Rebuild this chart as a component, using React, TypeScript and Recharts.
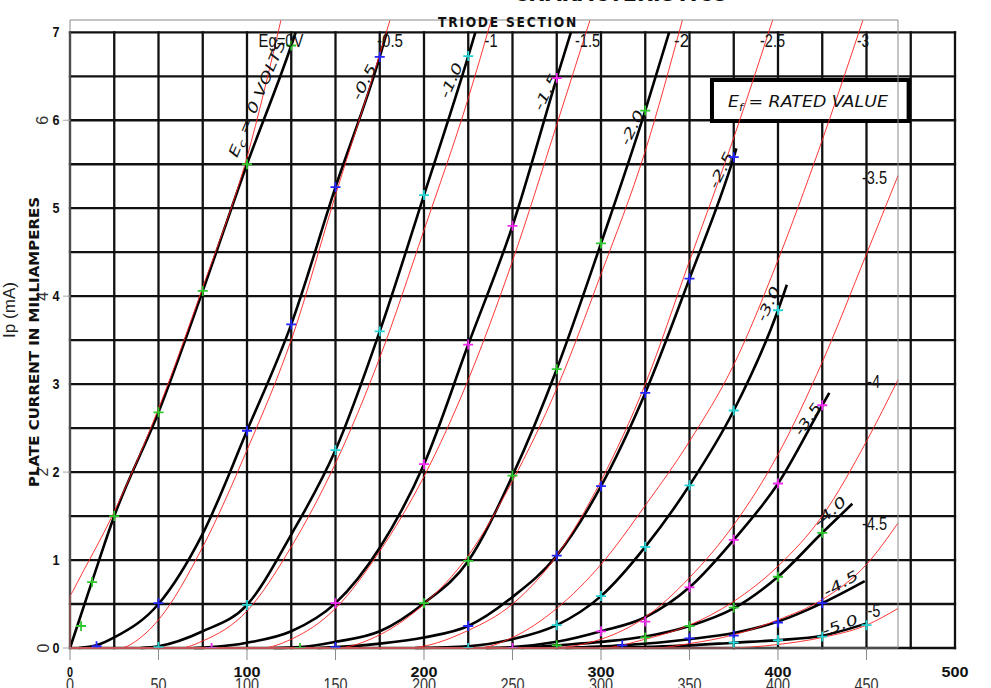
import React from 'react';
import {
  ComposedChart,
  Line,
  Scatter,
  XAxis,
  YAxis,
  ReferenceLine,
  ReferenceArea,
  ReferenceDot,
} from 'recharts';

// plate volts / plate mA (black)
const scanEc0 = [[0, 0], [12.5, 0.76], [25, 1.5], [50, 2.68], [75, 4.06], [100, 5.5], [125, 6.85], [127.5, 7.0]];
const scanEc05 = [[5, 0], [15, 0.03], [25, 0.12], [50, 0.5], [75, 1.3], [100, 2.47], [125, 3.68], [150, 5.24], [175, 6.72], [179, 7.0]];
const scanEc10 = [[40, 0], [50, 0.02], [75, 0.19], [100, 0.49], [125, 1.29], [150, 2.25], [175, 3.6], [200, 5.15], [225, 6.73], [229, 7.0]];
const scanEc15 = [[70, 0], [80, 0.01], [100, 0.06], [125, 0.19], [150, 0.51], [175, 1.14], [200, 2.09], [225, 3.45], [250, 4.8], [275, 6.48], [283, 7.0]];
const scanEc20 = [[115, 0], [130, 0.01], [150, 0.07], [175, 0.19], [200, 0.51], [225, 0.99], [250, 1.96], [275, 3.17], [300, 4.6], [325, 6.11], [338.5, 7.0]];
const scanEc25 = [[140, 0], [150, 0.01], [175, 0.05], [200, 0.12], [225, 0.25], [250, 0.58], [275, 1.05], [300, 1.84], [325, 2.9], [350, 4.2], [375, 5.58], [376.5, 5.68]];
const scanEc30 = [[195, 0], [225, 0.02], [250, 0.1], [275, 0.26], [300, 0.59], [325, 1.15], [350, 1.85], [375, 2.7], [400, 3.84], [405, 4.13]];
const scanEc35 = [[235, 0], [250, 0.01], [275, 0.07], [300, 0.19], [325, 0.35], [350, 0.69], [375, 1.23], [400, 1.87], [425, 2.76], [429, 2.9]];
const scanEc40 = [[255, 0], [275, 0.03], [300, 0.07], [325, 0.13], [350, 0.25], [375, 0.45], [400, 0.81], [425, 1.31], [442, 1.64]];
const scanEc45 = [[280, 0], [312, 0.03], [350, 0.1], [375, 0.17], [400, 0.3], [425, 0.51], [449, 0.76]];
const scanEc50 = [[300, 0], [350, 0.03], [375, 0.06], [400, 0.09], [425, 0.14], [450, 0.28]];

const ptsEc0 = [[6.25, 0.25], [12.5, 0.75], [25, 1.5], [50, 2.68], [75, 4.06], [100, 5.5], [125, 6.85]];
const ptsEc05 = [[15, 0.02], [50, 0.51], [100, 2.47], [125, 3.68], [150, 5.24], [175, 6.72]];
const ptsEc10 = [[50, 0.01], [100, 0.49], [150, 2.25], [175, 3.6], [200, 5.15], [225, 6.73]];
const ptsEc15 = [[80, 0.0], [150, 0.51], [200, 2.09], [225, 3.45], [250, 4.8], [275, 6.48]];
const ptsEc20 = [[130, 0.0], [200, 0.51], [225, 0.99], [250, 1.96], [275, 3.17], [300, 4.6], [325, 6.11]];
const ptsEc25 = [[150, 0.01], [225, 0.25], [275, 1.05], [300, 1.84], [325, 2.9], [350, 4.2], [375, 5.58]];
const ptsEc30 = [[225, 0.0], [275, 0.26], [300, 0.59], [325, 1.15], [350, 1.85], [375, 2.7], [400, 3.84]];
const ptsEc35 = [[250, 0.0], [300, 0.19], [325, 0.3], [350, 0.69], [375, 1.23], [400, 1.87], [425, 2.76]];
const ptsEc40 = [[275, 0.03], [325, 0.12], [350, 0.25], [375, 0.46], [400, 0.81], [425, 1.31]];
const ptsEc45 = [[312, 0.03], [350, 0.11], [375, 0.14], [400, 0.29], [425, 0.51]];
const ptsEc50 = [[375, 0.06], [400, 0.09], [425, 0.13], [450, 0.26]];

// model curves (red), Eg = 0 ... -5 V
const modelEg0 = [[0, 0], [0.01, 0.58], [1.5, 0.64], [25, 1.55], [50, 2.72], [75, 4.1], [100, 5.58], [119.2, 7.14]];
const modelEg05 = [[0, 0], [28, 0], [40, 0.12], [50, 0.32], [75, 1.15], [100, 2.25], [126, 3.56], [150, 5.15], [175, 6.75], [180.8, 7.14]];
const modelEg10 = [[0, 0], [62, 0], [75, 0.08], [100, 0.42], [125, 1.15], [150, 2.1], [175, 3.3], [200, 4.75], [225, 6.25], [238, 7.14]];
const modelEg15 = [[0, 0], [108, 0], [125, 0.1], [150, 0.45], [175, 1.1], [200, 1.95], [225, 3.05], [250, 4.4], [275, 5.95], [293.8, 7.14]];
const modelEg20 = [[0, 0], [150, 0], [175, 0.15], [200, 0.5], [225, 1.05], [250, 1.9], [275, 2.95], [300, 4.25], [325, 5.65], [346, 7.14]];
const modelEg25 = [[0, 0], [190, 0], [225, 0.2], [250, 0.5], [275, 1.05], [300, 1.9], [325, 3.0], [350, 4.4], [375, 5.8], [397, 7.14]];
const modelEg30 = [[0, 0], [230, 0], [250, 0.12], [275, 0.45], [300, 0.95], [325, 1.62], [350, 2.35], [375, 3.22], [400, 4.41], [423, 5.66], [448, 7.14]];
const modelEg35 = [[0, 0], [270, 0], [300, 0.1], [325, 0.35], [350, 0.8], [375, 1.4], [400, 2.2], [425, 3.25], [450, 4.48], [467.8, 5.37]];
const modelEg40 = [[0, 0], [300, 0], [325, 0.1], [350, 0.26], [375, 0.53], [400, 0.93], [425, 1.5], [450, 2.35], [467.8, 3.05]];
const modelEg45 = [[0, 0], [330, 0], [350, 0.05], [375, 0.15], [400, 0.32], [425, 0.55], [450, 0.95], [467.8, 1.42]];
const modelEg50 = [[0, 0], [370, 0], [400, 0.04], [425, 0.12], [450, 0.26], [467.8, 0.45]];

const overlayXTicks = [0, 50, 100, 150, 200, 250, 300, 350, 400, 450];
const overlayYTicks = [0, 2, 4, 6];
const scanXTicks = [0, 100, 200, 300, 400, 500];
const scanXTickLabels = ['0', '100', '200', '300', '400', '500'];
const scanYTicks = [0, 1, 2, 3, 4, 5, 6, 7];
const gridVolts = [0, 25, 50, 75, 100, 125, 150, 175, 200, 225, 250, 275, 300, 325, 350, 375, 400, 425, 450, 475, 500];
const gridMa = [0, 0.5, 1, 1.5, 2, 2.5, 3, 3.5, 4, 4.5, 5, 5.5, 6, 6.5, 7];

const GREEN = '#2fc82f';
const BLUE = '#2424ff';
const CYAN = '#25d5d5';
const MAGENTA = '#f22af2';

const scanCurves = [scanEc0, scanEc05, scanEc10, scanEc15, scanEc20, scanEc25, scanEc30, scanEc35, scanEc40, scanEc45, scanEc50];
const modelCurves = [modelEg0, modelEg05, modelEg10, modelEg15, modelEg20, modelEg25, modelEg30, modelEg35, modelEg40, modelEg45, modelEg50];
const markerSets = [
  { pts: ptsEc0, color: GREEN },
  { pts: ptsEc05, color: BLUE },
  { pts: ptsEc10, color: CYAN },
  { pts: ptsEc15, color: MAGENTA },
  { pts: ptsEc20, color: GREEN },
  { pts: ptsEc25, color: BLUE },
  { pts: ptsEc30, color: CYAN },
  { pts: ptsEc35, color: MAGENTA },
  { pts: ptsEc40, color: GREEN },
  { pts: ptsEc45, color: BLUE },
  { pts: ptsEc50, color: CYAN },
];

type Note = { text: string; v: number; i: number; w: number; rot?: number; sub?: string; rest?: string };

// labels of the model curves
const modelNotes: Note[] = [
  { text: 'Eg=0V', v: 119.2, i: 6.833, w: 45 },
  { text: '-0.5', v: 180.8, i: 6.833, w: 26 },
  { text: '-1', v: 237.9, i: 6.833, w: 13 },
  { text: '-1.5', v: 292.4, i: 6.833, w: 25 },
  { text: '-2', v: 345.5, i: 6.833, w: 15 },
  { text: '-2.5', v: 396.9, i: 6.833, w: 25 },
  { text: '-3', v: 448.0, i: 6.833, w: 12 },
  { text: '-3.5', v: 454.5, i: 5.275, w: 25 },
  { text: '-4', v: 454.0, i: 2.956, w: 13 },
  { text: '-4.5', v: 454.5, i: 1.342, w: 25 },
  { text: '-5', v: 454.2, i: 0.352, w: 13 },
];

// lettering of the scanned sheet, along the curves
const scanNotes: Note[] = [
  { text: 'E', sub: 'c', rest: ' = 0 VOLTS', v: 105.6, i: 6.249, w: 126, rot: -67 },
  { text: '-0.5', v: 166.1, i: 6.435, w: 38, rot: -63 },
  { text: '-1.0', v: 215.3, i: 6.454, w: 37, rot: -66 },
  { text: '-1.5', v: 268.9, i: 6.321, w: 39, rot: -63.5 },
  { text: '-2.0', v: 317.5, i: 5.917, w: 37, rot: -64.5 },
  { text: '-2.5', v: 367.8, i: 5.434, w: 39, rot: -63.5 },
  { text: '-3.0', v: 394.5, i: 3.911, w: 37, rot: -64.5 },
  { text: '-3.5', v: 416.7, i: 2.603, w: 36, rot: -55 },
  { text: '-4.0', v: 429.4, i: 1.55, w: 38, rot: -41.5 },
  { text: '-4.5', v: 435.5, i: 0.735, w: 38, rot: -30 },
  { text: '-5.0', v: 435.0, i: 0.261, w: 37, rot: -20 },
];

const rows = (pts: number[][]) => pts.map(([v, i]) => ({ v, i }));

const cross = (color: string) => (p: any) => {
  const { cx, cy } = p;
  if (cx == null || cy == null) return <g />;
  return (
    <path
      d={`M${cx - 5},${cy}H${cx + 5}M${cx},${cy - 5}V${cy + 5}`}
      stroke={color}
      strokeWidth={1.8}
      fill="none"
    />
  );
};

const noteShape = (n: Note, style: any) => (p: any) => {
  const { cx, cy } = p;
  return (
    <text
      x={cx}
      y={cy}
      transform={n.rot ? `rotate(${n.rot} ${cx} ${cy})` : undefined}
      textAnchor="middle"
      textLength={n.w}
      lengthAdjust="spacingAndGlyphs"
      {...style}
    >
      {n.sub ? (
        <>
          <tspan>{n.text}</tspan>
          <tspan dy={4} fontSize={10}>{n.sub}</tspan>
          <tspan dy={-4}>{n.rest}</tspan>
        </>
      ) : (
        n.text
      )}
    </text>
  );
};

const overlayFont = "'Liberation Sans', Arial, sans-serif";
const scanFont = "'DejaVu Sans', sans-serif";

const OverlayXTick = (p: any) => {
  const label = String(p.payload.value);
  return (
    <text
      x={p.x}
      y={p.y + 29}
      textAnchor="middle"
      fontFamily={overlayFont}
      fontSize={19}
      fill="#333"
      textLength={label.length * 8}
      lengthAdjust="spacingAndGlyphs"
    >
      {label}
    </text>
  );
};

const OverlayYTick = (p: any) => {
  const x = p.x - 18;
  return (
    <text
      x={x}
      y={p.y}
      transform={`rotate(-90 ${x} ${p.y})`}
      textAnchor="middle"
      dominantBaseline="central"
      fontFamily={overlayFont}
      fontSize={16}
      fill="#333"
    >
      {p.payload.value}
    </text>
  );
};

export default function App() {
  return (
    <div style={{ position: 'absolute', left: 0, top: 0, width: 991, height: 688, background: '#fff' }}>
      <ComposedChart width={991} height={688} margin={{ top: 20, right: 93, bottom: 0, left: 0 }}>
        <XAxis
          type="number"
          dataKey="v"
          domain={[0, 467.8]}
          ticks={overlayXTicks}
          interval={0}
          height={40}
          tickSize={12}
          axisLine={false}
          tickLine={{ stroke: '#8a8a8a' }}
          tick={(p: any) => <OverlayXTick {...p} />}
        />
        <YAxis
          type="number"
          domain={[0, 7.14]}
          ticks={overlayYTicks}
          interval={0}
          width={70}
          tickSize={7}
          axisLine={false}
          tickLine={{ stroke: '#aaa' }}
          tick={(p: any) => <OverlayYTick {...p} />}
        />
        <YAxis yAxisId="clip" type="number" domain={[0, 7.14]} allowDataOverflow hide />

        {gridVolts.map((v) => (
          <ReferenceLine
            key={`gv${v}`}
            segment={[{ x: v, y: 0 }, { x: v, y: 7 }]}
            stroke="#111"
            strokeWidth={2.3}
            strokeLinecap="square"
            ifOverflow="visible"
            zIndex={-20}
          />
        ))}
        {gridMa.map((i) => (
          <ReferenceLine
            key={`gh${i}`}
            segment={[{ x: 0, y: i }, { x: 500, y: i }]}
            stroke="#111"
            strokeWidth={2.3}
            strokeLinecap="square"
            ifOverflow="visible"
            zIndex={-20}
          />
        ))}

        <ReferenceArea
          x1={362.7}
          x2={473.8}
          y1={5.991}
          y2={6.458}
          fill="#fff"
          fillOpacity={1}
          stroke="#000"
          strokeWidth={4}
          ifOverflow="visible"
          zIndex={-10}
        />

        {scanCurves.map((c, k) => (
          <Line
            key={`scan${k}`}
            name={`scan${k}`}
            data={rows(c)}
            dataKey="i"
            type="monotone"
            stroke="#000"
            strokeWidth={2.6}
            dot={false}
            activeDot={false}
            isAnimationActive={false}
          />
        ))}

        {scanNotes.map((n, k) => (
          <ReferenceDot
            key={`sn${k}`}
            x={n.v}
            y={n.i}
            r={1}
            ifOverflow="visible"
            zIndex={450}
            shape={noteShape(n, {
              fontFamily: scanFont,
              fontStyle: 'italic',
              fontSize: 14,
              fill: '#111',
              dominantBaseline: 'central',
            })}
          />
        ))}

        {modelCurves.map((c, k) => (
          <Line
            key={`model${k}`}
            name={`model${k}`}
            data={rows(c)}
            dataKey="i"
            type="monotone"
            stroke="#ff2020"
            strokeWidth={0.9}
            dot={false}
            activeDot={false}
            isAnimationActive={false}
          />
        ))}

        {markerSets.map((m, k) => (
          <Scatter
            key={`pts${k}`}
            name={`pts${k}`}
            data={rows(m.pts)}
            dataKey="i"
            yAxisId="clip"
            shape={cross(m.color)}
            isAnimationActive={false}
          />
        ))}

        <ReferenceArea
          x1={0}
          x2={467.8}
          y1={0}
          y2={7.14}
          fill="none"
          stroke="#8a8a8a"
          strokeWidth={1}
          ifOverflow="visible"
          zIndex={2000}
        />

        {modelNotes.map((n, k) => (
          <ReferenceDot
            key={`mn${k}`}
            x={n.v}
            y={n.i}
            r={1}
            ifOverflow="visible"
            zIndex={2100}
            shape={noteShape(n, { fontFamily: overlayFont, fontSize: 19, fill: '#111' })}
          />
        ))}

        {/* scanned sheet lettering around the grid */}
        <ReferenceDot
          x={416.9}
          y={6.15}
          r={1}
          ifOverflow="visible"
          zIndex={2100}
          shape={noteShape(
            { text: 'E', sub: 'f', rest: '  =  RATED VALUE', v: 0, i: 0, w: 160 },
            { fontFamily: scanFont, fontStyle: 'italic', fontSize: 15, fill: '#111' }
          )}
        />
        <ReferenceDot
          x={247.5}
          y={7.06}
          r={1}
          ifOverflow="visible"
          zIndex={2100}
          shape={noteShape(
            { text: 'TRIODE SECTION', v: 0, i: 0, w: 140 },
            { fontFamily: scanFont, fontWeight: 600, fontSize: 14, fill: '#111', letterSpacing: 2 }
          )}
        />
        <ReferenceDot
          x={311}
          y={7.36}
          r={1}
          ifOverflow="visible"
          zIndex={2100}
          shape={noteShape(
            { text: 'CHARACTERISTICS', v: 0, i: 0, w: 215 },
            { fontFamily: scanFont, fontWeight: 'bold', fontSize: 24, fill: '#111' }
          )}
        />
        <ReferenceDot
          x={-20.3}
          y={3.479}
          r={1}
          ifOverflow="visible"
          zIndex={2100}
          shape={noteShape(
            { text: 'PLATE CURRENT IN MILLIAMPERES', v: 0, i: 0, w: 290, rot: -90 },
            { fontFamily: scanFont, fontWeight: 'bold', fontSize: 14, fill: '#111', dominantBaseline: 'central' }
          )}
        />
        <ReferenceDot
          x={-33.9}
          y={3.843}
          r={1}
          ifOverflow="visible"
          zIndex={2100}
          shape={noteShape(
            { text: 'Ip (mA)', v: 0, i: 0, w: 56, rot: -90 },
            { fontFamily: overlayFont, fontSize: 17, fill: '#222', dominantBaseline: 'central' }
          )}
        />

        {scanXTicks.map((v, k) => (
          <ReferenceDot
            key={`sx${v}`}
            x={v}
            y={0}
            r={1}
            ifOverflow="visible"
            zIndex={2100}
            shape={(p: any) => (
              <text
                x={p.cx}
                y={p.cy + 29}
                textAnchor="middle"
                fontFamily={overlayFont}
                fontWeight="bold"
                fontSize={14}
                fill="#111"
                textLength={scanXTickLabels[k].length > 1 ? 27 : 6}
                lengthAdjust="spacingAndGlyphs"
              >
                {scanXTickLabels[k]}
              </text>
            )}
          />
        ))}
        {scanYTicks.map((i) => (
          <ReferenceDot
            key={`sy${i}`}
            x={0}
            y={i}
            r={1}
            ifOverflow="visible"
            zIndex={2100}
            shape={(p: any) => (
              <text
                x={p.cx - 14}
                y={p.cy + 5}
                textAnchor="middle"
                fontFamily={overlayFont}
                fontWeight="bold"
                fontSize={15}
                fill="#111"
                textLength={7}
                lengthAdjust="spacingAndGlyphs"
              >
                {i}
              </text>
            )}
          />
        ))}
      </ComposedChart>
    </div>
  );
}
